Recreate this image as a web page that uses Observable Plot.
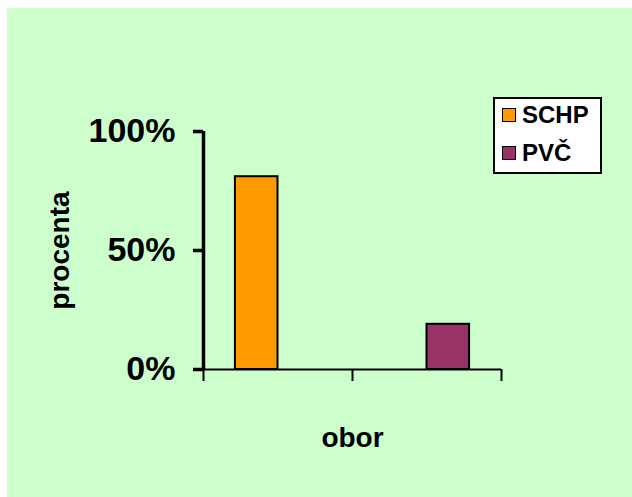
<!DOCTYPE html>
<html>
<head>
<meta charset="utf-8">
<script src="https://cdn.jsdelivr.net/npm/d3@7"></script>
<script src="https://cdn.jsdelivr.net/npm/@observablehq/plot@0.6"></script>
<style>
  html, body { margin: 0; padding: 0; background: #ffffff; }
  body { width: 632px; height: 497px; position: relative; overflow: hidden;
         font-family: "Liberation Sans", Arial, sans-serif; font-weight: bold; }
  #chart { position: absolute; left: 7px; top: 8px; }
  #chart svg { display: block; }
  #legend { position: absolute; left: 493px; top: 97px; width: 105px; height: 73px;
            background: #ffffff; border: 2px solid #000; }
  .item { position: absolute; left: 7px; height: 24px; display: flex; align-items: center;
          font-size: 24px; line-height: 24px; color: #000; }
  .sw { width: 12px; height: 12px; border: 1.5px solid #000; margin-right: 6px; }
</style>
</head>
<body>
<div id="chart"></div>
<div id="legend"></div>
<script>
// ---- data ----
const categories = ["1", "2"];            // category slots (unlabelled on the axis)
const seriesNames = ["SCHP", "PVČ"];
const seriesColors = ["#ff9900", "#993366"];
const schpValues = [0.81, 0];
const pvcValues = [0, 0.19];
const yTicks = [0, 0.5, 1];
const yTickLabels = ["0%", "50%", "100%"];
const xTitle = "obor";
const yTitle = "procenta";

// Excel-like clustered layout: gap width 150%
const seriesValues = [schpValues, pvcValues];
const nS = seriesNames.length;
const slot = 1 / (nS + 1.5);
const rows = [];
categories.forEach((c, i) => {
  seriesNames.forEach((s, j) => {
    const v = seriesValues[j][i];
    if (v > 0) rows.push({cat: i, series: s, value: v,
      x1: i + slot * (0.75 + j), x2: i + slot * (1.75 + j)});
  });
});

const chart = Plot.plot({
  width: 625, height: 489,
  marginLeft: 196, marginRight: 131, marginTop: 123, marginBottom: 128,
  style: {background: "#ccffcc", fontFamily: "'Liberation Sans', Arial, sans-serif", fontWeight: "bold", color: "#000"},
  x: {type: "linear", domain: [0, categories.length], axis: null},
  y: {domain: [0, 1], axis: null},
  color: {domain: seriesNames, range: seriesColors},
  marks: [
    Plot.rectY(rows, {x1: "x1", x2: "x2", y1: 0, y2: "value", fill: "series", stroke: "#000", strokeWidth: 2}),
    Plot.ruleY([0], {stroke: "#000", strokeWidth: 2}),
    Plot.axisX({ticks: d3.range(categories.length + 1), tickSize: 12, strokeWidth: 2, tickFormat: () => "", label: null}),
    Plot.ruleX([0], {y1: 0, y2: 1, stroke: "#000", strokeWidth: 3.5}),
    Plot.axisY({ticks: yTicks, tickSize: 10, tickPadding: 18, strokeWidth: 3.5, fontSize: 34, label: null,
      fontWeight: "bold", fill: "#000", tickFormat: d => yTickLabels[yTicks.indexOf(d)]}),
    Plot.text([yTitle], {frameAnchor: "left", textAnchor: "middle", rotate: -90, dx: -143, fontSize: 28, fontWeight: "bold", fill: "#000", lineAnchor: "middle"}),
    Plot.text([xTitle], {frameAnchor: "bottom", dy: 77, lineAnchor: "bottom", fontSize: 28, fontWeight: "bold", fill: "#000"})
  ]
});
document.getElementById("chart").appendChild(chart);

// legend
const legend = document.getElementById("legend");
seriesNames.forEach((s, j) => {
  const it = document.createElement("div");
  it.className = "item";
  it.style.top = (4 + j * 38) + "px";
  const sw = document.createElement("div");
  sw.className = "sw";
  sw.style.background = seriesColors[j];
  const t = document.createElement("span");
  t.textContent = s;
  it.appendChild(sw); it.appendChild(t);
  legend.appendChild(it);
});
</script>
</body>
</html>
